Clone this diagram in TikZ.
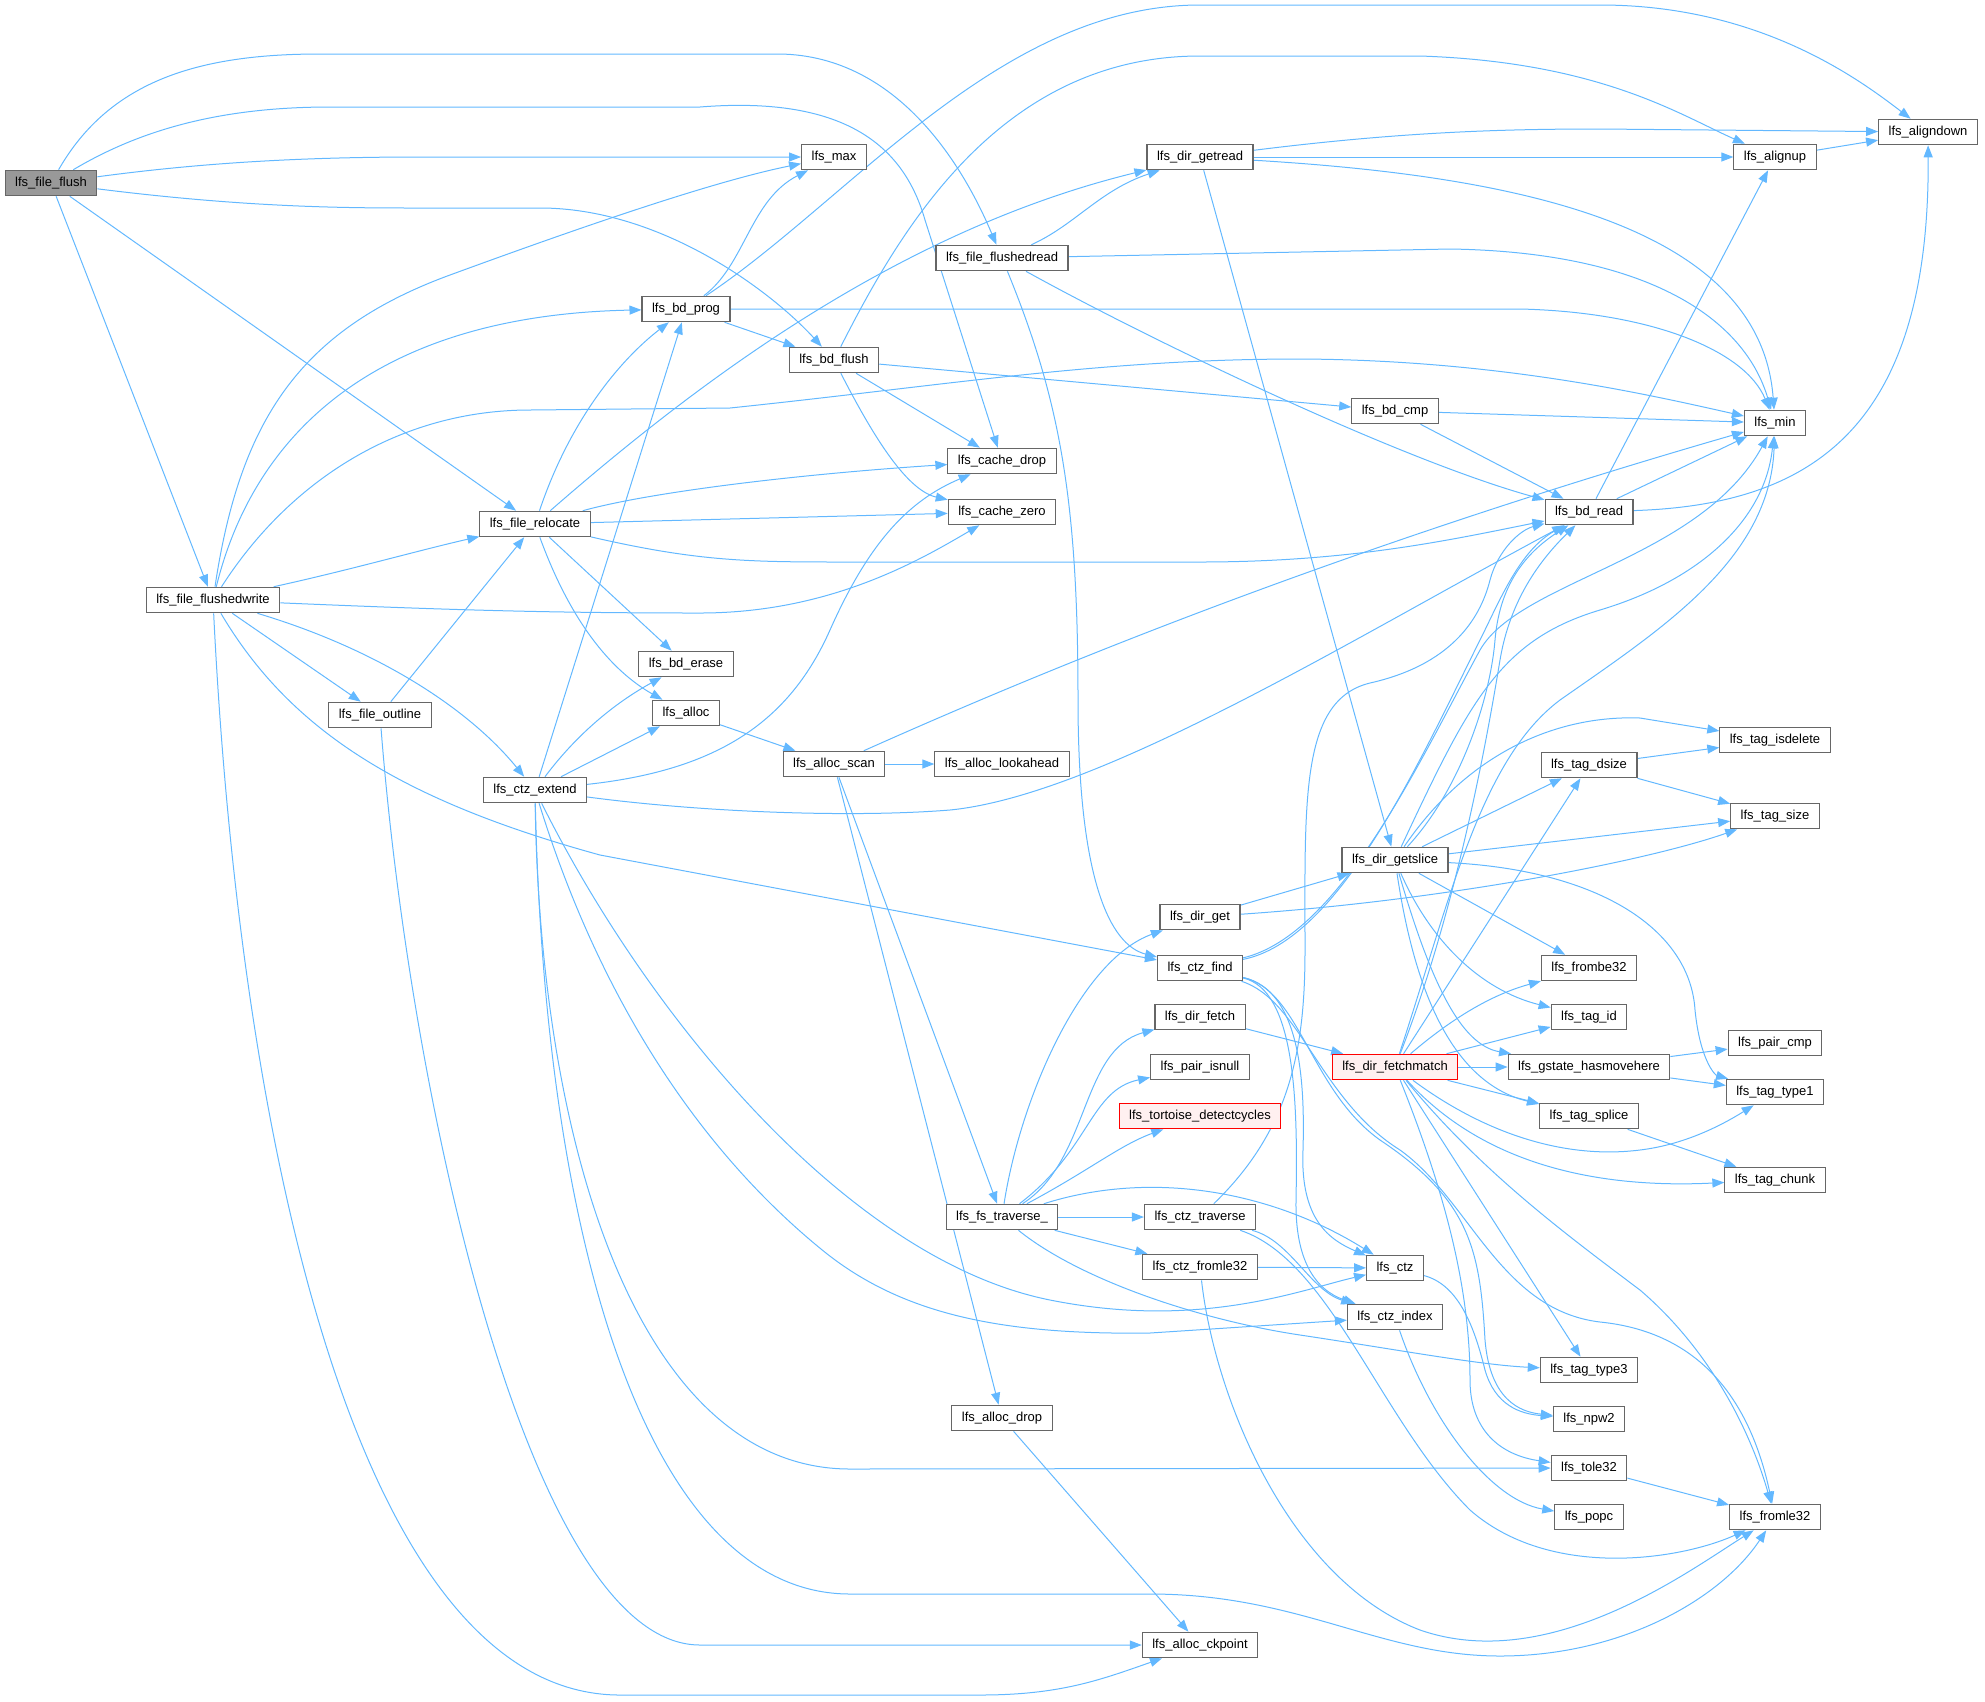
\documentclass[tikz,border=0pt]{standalone}
\usepackage{fontspec}
\setmainfont{Liberation Sans}
\usetikzlibrary{arrows.meta,backgrounds}
\definecolor{edgeblue}{HTML}{63B8FF}
\definecolor{nodegray}{HTML}{666666}
\definecolor{rootgray}{HTML}{999999}
\definecolor{truncfill}{HTML}{FFF0F0}
\begin{document}
\begin{tikzpicture}[x=1pt,y=-1pt,>={Triangle[length=12pt,width=9pt]},
	fn/.style={draw=nodegray,fill=white,line width=1.1pt,inner xsep=10pt,inner ysep=6.6pt,
		text height=9.5pt,text depth=2.8pt,font=\fontsize{13}{15}\selectfont},
	root/.style={fn,fill=rootgray},
	trunc/.style={fn,draw=red,fill=truncfill},
	call/.style={->,draw=edgeblue,line width=1pt}]
	\useasboundingbox (0,0) rectangle (1985,1701);
	\node[root] (fileflush) at (51,183) {lfs\_file\_flush};
	\node[fn] (max) at (834,157) {lfs\_max};
	\node[fn] (aligndown) at (1928,132) {lfs\_aligndown};
	\node[fn] (alignup) at (1775,157) {lfs\_alignup};
	\node[fn] (getread) at (1200,157) {lfs\_dir\_getread};
	\node[fn] (flushedread) at (1002,258) {lfs\_file\_flushedread};
	\node[fn] (bdprog) at (686,309) {lfs\_bd\_prog};
	\node[fn] (bdflush) at (834,360) {lfs\_bd\_flush};
	\node[fn] (bdcmp) at (1395,411) {lfs\_bd\_cmp};
	\node[fn] (min) at (1775,423) {lfs\_min};
	\node[fn] (cachedrop) at (1002,461) {lfs\_cache\_drop};
	\node[fn] (cachezero) at (1002,512) {lfs\_cache\_zero};
	\node[fn] (bdread) at (1589,512) {lfs\_bd\_read};
	\node[fn] (relocate) at (535,524) {lfs\_file\_relocate};
	\node[fn] (flushedwrite) at (213,600) {lfs\_file\_flushedwrite};
	\node[fn] (bderase) at (686,664) {lfs\_bd\_erase};
	\node[fn] (alloc) at (686,713) {lfs\_alloc};
	\node[fn] (outline) at (380,715) {lfs\_file\_outline};
	\node[fn] (isdelete) at (1775,740) {lfs\_tag\_isdelete};
	\node[fn] (allocscan) at (834,764) {lfs\_alloc\_scan};
	\node[fn] (lookahead) at (1002,764) {lfs\_alloc\_lookahead};
	\node[fn] (dsize) at (1589,765) {lfs\_tag\_dsize};
	\node[fn] (ctzextend) at (535,790) {lfs\_ctz\_extend};
	\node[fn] (tagsize) at (1775,816) {lfs\_tag\_size};
	\node[fn] (getslice) at (1395,860) {lfs\_dir\_getslice};
	\node[fn] (dirget) at (1200,917) {lfs\_dir\_get};
	\node[fn] (ctzfind) at (1200,968) {lfs\_ctz\_find};
	\node[fn] (frombe) at (1589,968) {lfs\_frombe32};
	\node[fn] (dirfetch) at (1200,1017) {lfs\_dir\_fetch};
	\node[fn] (tagid) at (1589,1017) {lfs\_tag\_id};
	\node[fn] (paircmp) at (1775,1043) {lfs\_pair\_cmp};
	\node[trunc] (fetchmatch) at (1395,1067) {lfs\_dir\_fetchmatch};
	\node[fn] (hasmove) at (1589,1067) {lfs\_gstate\_hasmovehere};
	\node[fn] (isnull) at (1200,1067) {lfs\_pair\_isnull};
	\node[fn] (type1) at (1775,1092) {lfs\_tag\_type1};
	\node[trunc] (tortoise) at (1200,1116) {lfs\_tortoise\_detectcycles};
	\node[fn] (splice) at (1589,1116) {lfs\_tag\_splice};
	\node[fn] (chunk) at (1775,1180) {lfs\_tag\_chunk};
	\node[fn] (fstraverse) at (1002,1217) {lfs\_fs\_traverse\_};
	\node[fn] (ctztraverse) at (1200,1217) {lfs\_ctz\_traverse};
	\node[fn] (ctzfromle) at (1200,1267) {lfs\_ctz\_fromle32};
	\node[fn] (ctz) at (1395,1268) {lfs\_ctz};
	\node[fn] (ctzindex) at (1395,1317) {lfs\_ctz\_index};
	\node[fn] (type3) at (1589,1370) {lfs\_tag\_type3};
	\node[fn] (npw2) at (1589,1419) {lfs\_npw2};
	\node[fn] (allocdrop) at (1002,1418) {lfs\_alloc\_drop};
	\node[fn] (tole32) at (1589,1468) {lfs\_tole32};
	\node[fn] (popc) at (1589,1517) {lfs\_popc};
	\node[fn] (fromle32) at (1775,1517) {lfs\_fromle32};
	\node[fn] (ckpoint) at (1200,1645) {lfs\_alloc\_ckpoint};
	\begin{scope}[on background layer]
	% lfs_file_flush
	\draw[call] (fileflush) .. controls (110,80) and (200,54) .. (320,54) -- (780,54) .. controls (900,56) and (965,170) .. (flushedread);
	\draw[call] (fileflush) .. controls (140,130) and (220,107) .. (330,107) -- (700,107) .. controls (850,95) and (905,150) .. (925,220) -- (cachedrop);
	\draw[call] (fileflush) .. controls (200,163) and (300,157) .. (420,157) -- (max);
	\draw[call] (fileflush) .. controls (250,208) and (350,208) .. (420,208) -- (540,208) .. controls (660,208) and (770,290) .. (bdflush);
	\draw[call] (fileflush) -- (relocate);
	\draw[call] (fileflush) -- (flushedwrite);
	% lfs_file_flushedwrite
	\draw[call] (flushedwrite) .. controls (240,420) and (300,330) .. (450,275) .. controls (600,220) and (720,180) .. (max);
	\draw[call] (flushedwrite) .. controls (255,430) and (380,315) .. (bdprog);
	\draw[call] (flushedwrite) .. controls (290,480) and (400,410) .. (530,410) -- (730,408) .. controls (950,385) and (1100,359) .. (1300,359) .. controls (1500,360) and (1650,395) .. (min);
	\draw[call] (flushedwrite) .. controls (350,570) and (420,550) .. (relocate);
	\draw[call] (flushedwrite) .. controls (450,610) and (550,613) .. (700,613) .. controls (830,613) and (920,560) .. (cachezero);
	\draw[call] (flushedwrite) -- (outline);
	\draw[call] (flushedwrite) .. controls (380,650) and (470,710) .. (ctzextend);
	\draw[call] (flushedwrite) .. controls (290,730) and (400,800) .. (600,855) -- (ctzfind);
	\draw[call] (flushedwrite) .. controls (240,1150) and (360,1695) .. (620,1695) -- (980,1695) .. controls (1060,1695) and (1100,1680) .. (ckpoint);
	% lfs_file_relocate, lfs_file_outline
	\draw[call] (relocate) .. controls (570,420) and (620,360) .. (bdprog);
	\draw[call] (relocate) .. controls (700,380) and (900,230) .. (getread);
	\draw[call] (relocate) .. controls (700,562) and (750,562) .. (850,562) -- (1200,562) .. controls (1350,562) and (1450,540) .. (bdread);
	\draw[call] (relocate) .. controls (650,492) and (800,474) .. (cachedrop);
	\draw[call] (relocate) -- (cachezero);
	\draw[call] (relocate) -- (bderase);
	\draw[call] (relocate) .. controls (570,620) and (610,670) .. (alloc);
	\draw[call] (outline) -- (relocate);
	\draw[call] (outline) .. controls (410,1100) and (530,1645) .. (700,1645) -- (ckpoint);
	% lfs_ctz_extend
	\draw[call] (ctzextend) -- (bdprog);
	\draw[call] (ctzextend) .. controls (580,730) and (620,700) .. (bderase);
	\draw[call] (ctzextend) -- (alloc);
	\draw[call] (ctzextend) .. controls (720,770) and (790,720) .. (830,630) .. controls (870,540) and (910,500) .. (cachedrop);
	\draw[call] (ctzextend) .. controls (700,812) and (850,818) .. (950,810) .. controls (1100,795) and (1350,640) .. (bdread);
	\draw[call] (ctzextend) .. controls (650,1020) and (850,1260) .. (1050,1300) .. controls (1200,1330) and (1300,1290) .. (ctz);
	\draw[call] (ctzextend) .. controls (600,1000) and (700,1150) .. (821,1249) .. controls (900,1314) and (1000,1335) .. (1150,1333) -- (ctzindex);
	\draw[call] (ctzextend) .. controls (540,1150) and (640,1469) .. (850,1469) -- (tole32);
	\draw[call] (ctzextend) .. controls (545,1250) and (650,1594) .. (850,1594) -- (1150,1594) .. controls (1300,1594) and (1380,1656) .. (1500,1656) .. controls (1620,1656) and (1720,1600) .. (fromle32);
	% lfs_alloc, lfs_alloc_scan, lfs_alloc_drop
	\draw[call] (alloc) -- (allocscan);
	\draw[call] (allocscan) -- (lookahead);
	\draw[call] (allocscan) .. controls (1000,690) and (1300,560) .. (min);
	\draw[call] (allocscan) -- (fstraverse);
	\draw[call] (allocscan) -- (allocdrop);
	\draw[call] (allocdrop) -- (ckpoint);
	% lfs_bd_prog, lfs_bd_flush
	\draw[call] (bdprog) .. controls (745,265) and (750,200) .. (max);
	\draw[call] (bdprog) .. controls (850,200) and (1000,5) .. (1200,5) -- (1600,5) .. controls (1760,5) and (1860,80) .. (aligndown);
	\draw[call] (bdprog) -- (1520,309) .. controls (1650,312) and (1745,350) .. (min);
	\draw[call] (bdprog) -- (bdflush);
	\draw[call] (bdflush) .. controls (900,230) and (1000,56) .. (1200,56) -- (1420,56) .. controls (1600,62) and (1680,115) .. (alignup);
	\draw[call] (bdflush) -- (bdcmp);
	\draw[call] (bdflush) -- (cachedrop);
	\draw[call] (bdflush) .. controls (870,430) and (905,490) .. (cachezero);
	% lfs_bd_cmp, lfs_bd_read, lfs_alignup
	\draw[call] (bdcmp) -- (min);
	\draw[call] (bdcmp) -- (bdread);
	\draw[call] (bdread) -- (min);
	\draw[call] (bdread) .. controls (1810,505) and (1930,430) .. (aligndown);
	\draw[call] (bdread) -- (alignup);
	\draw[call] (alignup) -- (aligndown);
	% lfs_dir_getread, lfs_file_flushedread
	\draw[call] (getread) .. controls (1400,132) and (1500,129) .. (1600,129) -- (aligndown);
	\draw[call] (getread) -- (alignup);
	\draw[call] (getread) .. controls (1500,175) and (1760,220) .. (min);
	\draw[call] (getread) -- (getslice);
	\draw[call] (flushedread) .. controls (1075,225) and (1100,190) .. (getread);
	\draw[call] (flushedread) -- (1450,249) .. controls (1650,252) and (1745,320) .. (min);
	\draw[call] (flushedread) .. controls (1150,340) and (1400,460) .. (bdread);
	\draw[call] (flushedread) .. controls (1060,400) and (1078,500) .. (1078,700) .. controls (1078,880) and (1110,945) .. (ctzfind);
	% lfs_dir_get, lfs_dir_getslice
	\draw[call] (dirget) -- (getslice);
	\draw[call] (dirget) .. controls (1450,900) and (1650,860) .. (tagsize);
	\draw[call] (getslice) .. controls (1460,790) and (1490,700) .. (1495,640) .. controls (1500,580) and (1530,550) .. (bdread);
	\draw[call] (getslice) .. controls (1470,700) and (1500,640) .. (1600,610) .. controls (1700,580) and (1765,520) .. (min);
	\draw[call] (getslice) .. controls (1470,750) and (1560,715) .. (1640,718) -- (isdelete);
	\draw[call] (getslice) -- (dsize);
	\draw[call] (getslice) -- (tagsize);
	\draw[call] (getslice) .. controls (1600,870) and (1690,930) .. (1695,1010) .. controls (1700,1060) and (1715,1075) .. (type1);
	\draw[call] (getslice) -- (frombe);
	\draw[call] (getslice) .. controls (1430,940) and (1480,990) .. (tagid);
	\draw[call] (getslice) .. controls (1430,980) and (1460,1045) .. (hasmove);
	\draw[call] (getslice) .. controls (1410,960) and (1440,1080) .. (splice);
	% lfs_dir_fetch, lfs_dir_fetchmatch
	\draw[call] (dirfetch) -- (fetchmatch);
	\draw[call] (fetchmatch) .. controls (1460,900) and (1490,720) .. (1500,660) .. controls (1510,600) and (1540,560) .. (bdread);
	\draw[call] (fetchmatch) .. controls (1450,900) and (1480,760) .. (1560,700) .. controls (1660,630) and (1770,560) .. (min);
	\draw[call] (fetchmatch) -- (dsize);
	\draw[call] (fetchmatch) .. controls (1450,1020) and (1490,995) .. (frombe);
	\draw[call] (fetchmatch) -- (tagid);
	\draw[call] (fetchmatch) -- (hasmove);
	\draw[call] (fetchmatch) -- (splice);
	\draw[call] (fetchmatch) .. controls (1480,1130) and (1560,1160) .. (1640,1150) .. controls (1690,1144) and (1730,1120) .. (type1);
	\draw[call] (fetchmatch) .. controls (1470,1150) and (1570,1190) .. (chunk);
	\draw[call] (fetchmatch) .. controls (1480,1170) and (1560,1230) .. (1640,1290) .. controls (1710,1350) and (1750,1430) .. (fromle32);
	\draw[call] (fetchmatch) -- (type3);
	\draw[call] (fetchmatch) .. controls (1440,1180) and (1470,1280) .. (1470,1380) .. controls (1470,1430) and (1500,1455) .. (tole32);
	\draw[call] (dsize) -- (isdelete);
	\draw[call] (dsize) -- (tagsize);
	\draw[call] (hasmove) -- (paircmp);
	\draw[call] (hasmove) -- (type1);
	\draw[call] (splice) -- (chunk);
	% lfs_fs_traverse_
	\draw[call] (fstraverse) .. controls (1020,1100) and (1080,960) .. (dirget);
	\draw[call] (fstraverse) .. controls (1090,1160) and (1080,1050) .. (dirfetch);
	\draw[call] (fstraverse) .. controls (1090,1150) and (1090,1090) .. (isnull);
	\draw[call] (fstraverse) .. controls (1090,1170) and (1120,1145) .. (tortoise);
	\draw[call] (fstraverse) -- (ctztraverse);
	\draw[call] (fstraverse) .. controls (1150,1170) and (1270,1190) .. (ctz);
	\draw[call] (fstraverse) -- (ctzfromle);
	\draw[call] (fstraverse) .. controls (1080,1280) and (1200,1320) .. (1300,1335) .. controls (1400,1350) and (1480,1365) .. (type3);
	% lfs_ctz_traverse, lfs_ctz_fromle32
	\draw[call] (ctztraverse) .. controls (1290,1130) and (1305,1050) .. (1305,950) .. controls (1305,800) and (1300,700) .. (1370,683) .. controls (1450,665) and (1480,620) .. (1490,580) .. controls (1498,550) and (1520,530) .. (bdread);
	\draw[call] (ctztraverse) .. controls (1290,1240) and (1310,1290) .. (ctzindex);
	\draw[call] (ctztraverse) .. controls (1330,1260) and (1380,1420) .. (1470,1510) .. controls (1550,1580) and (1680,1560) .. (fromle32);
	\draw[call] (ctzfromle) -- (ctz);
	\draw[call] (ctzfromle) .. controls (1215,1400) and (1290,1580) .. (1420,1630) .. controls (1550,1675) and (1690,1570) .. (fromle32);
	% lfs_ctz_find
	\draw[call] (ctzfind) .. controls (1340,940) and (1420,760) .. (1480,640) .. controls (1500,600) and (1520,550) .. (bdread);
	\draw[call] (ctzfind) .. controls (1340,935) and (1420,760) .. (1480,650) .. controls (1520,580) and (1700,560) .. (min);
	\draw[call] (ctzfind) .. controls (1300,990) and (1305,1080) .. (1303,1150) .. controls (1300,1220) and (1330,1240) .. (ctz);
	\draw[call] (ctzfind) .. controls (1295,990) and (1298,1100) .. (1296,1200) .. controls (1295,1260) and (1315,1290) .. (ctzindex);
	\draw[call] (ctzfind) .. controls (1300,990) and (1310,1090) .. (1380,1140) .. controls (1470,1200) and (1480,1250) .. (1485,1340) .. controls (1490,1400) and (1520,1412) .. (npw2);
	\draw[call] (ctzfind) .. controls (1300,1000) and (1320,1100) .. (1400,1150) .. controls (1470,1200) and (1500,1310) .. (1600,1322) .. controls (1700,1332) and (1750,1400) .. (fromle32);
	% lfs_ctz, lfs_ctz_index, lfs_tole32
	\draw[call] (ctz) .. controls (1460,1285) and (1475,1330) .. (1485,1370) .. controls (1495,1405) and (1520,1414) .. (npw2);
	\draw[call] (ctzindex) .. controls (1430,1420) and (1490,1500) .. (popc);
	\draw[call] (tole32) -- (fromle32);
	\end{scope}
\end{tikzpicture}
\end{document}
